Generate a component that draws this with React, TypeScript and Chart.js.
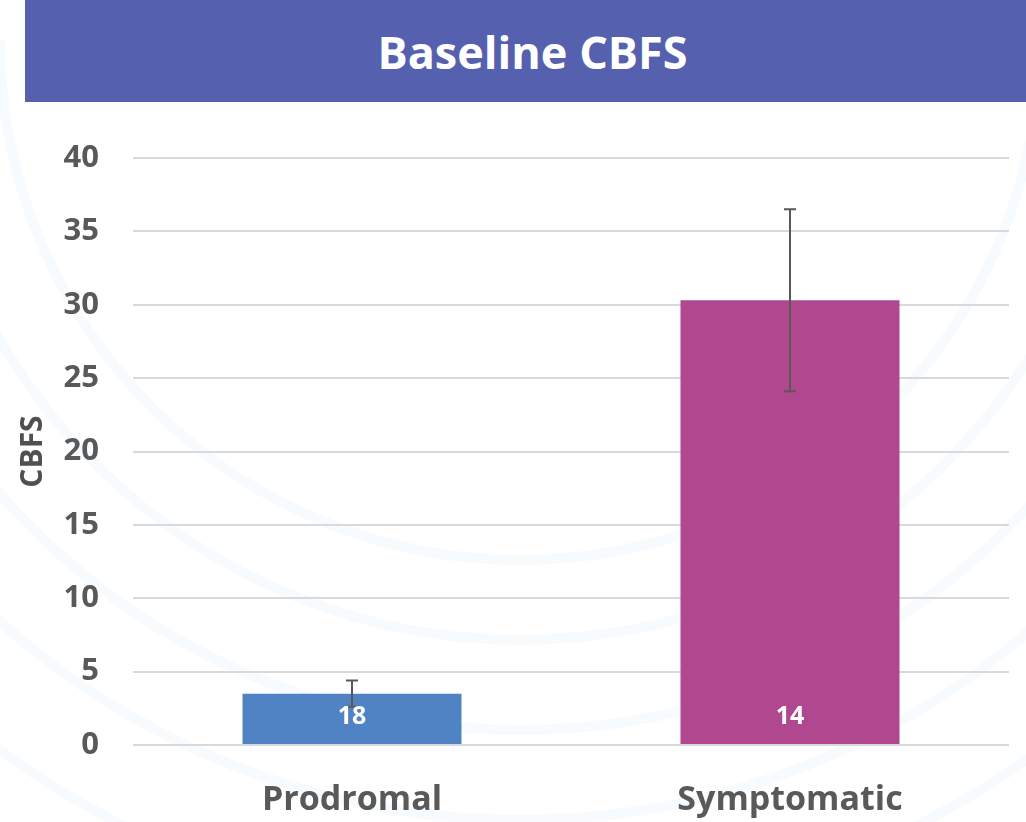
import React, { useEffect, useRef } from "react";
import { Chart, registerables } from "chart.js";

Chart.register(...registerables);

const chartTitle = "Baseline CBFS";
const yAxisTitle = "CBFS";
const categories = ["Prodromal", "Symptomatic"];
const meanValues = [3.5, 30.3];
const errorValues = [0.9, 6.2];
const sampleSizes = ["18", "14"];
const barColors = ["#4F83C4", "#B1478F"];
const yMin = 0;
const yMax = 40;
const yStep = 5;

const FONT = '"Open Sans", "DejaVu Sans", sans-serif';

const backgroundPlugin = {
  id: "bgArcs",
  beforeDraw(chart: any) {
    const { ctx, width, height } = chart;
    ctx.save();
    ctx.fillStyle = "#ffffff";
    ctx.fillRect(0, 0, width, height);
    ctx.strokeStyle = "rgba(190, 225, 240, 0.13)";
    ctx.lineWidth = 10;
    const radii = [520, 600, 690, 780, 880];
    radii.forEach((r) => {
      ctx.beginPath();
      ctx.arc(520, 40, r, 0, Math.PI);
      ctx.stroke();
    });
    ctx.restore();
  },
};

const errorBarPlugin = {
  id: "errorBars",
  afterDatasetsDraw(chart: any) {
    const ctx = chart.ctx;
    const meta = chart.getDatasetMeta(0);
    const yScale = chart.scales.y;
    ctx.save();
    ctx.strokeStyle = "#595959";
    ctx.lineWidth = 2;
    meta.data.forEach((bar: any, i: number) => {
      const x = bar.x;
      const top = yScale.getPixelForValue(meanValues[i] + errorValues[i]);
      const bottom = yScale.getPixelForValue(meanValues[i] - errorValues[i]);
      ctx.beginPath();
      ctx.moveTo(x, top);
      ctx.lineTo(x, bottom);
      ctx.moveTo(x - 6, top);
      ctx.lineTo(x + 6, top);
      ctx.moveTo(x - 6, bottom);
      ctx.lineTo(x + 6, bottom);
      ctx.stroke();
    });
    ctx.fillStyle = "#ffffff";
    ctx.font = `bold 25px ${FONT}`;
    ctx.textAlign = "center";
    ctx.textBaseline = "middle";
    const base = yScale.getPixelForValue(0);
    meta.data.forEach((bar: any, i: number) => {
      ctx.fillText(sampleSizes[i], bar.x, base - 28);
    });
    ctx.restore();
  },
};

export default function App() {
  const canvasRef = useRef<HTMLCanvasElement | null>(null);

  useEffect(() => {
    if (!canvasRef.current) return;
    const chart = new Chart(canvasRef.current, {
      type: "bar",
      data: {
        labels: categories,
        datasets: [
          {
            label: yAxisTitle,
            data: meanValues,
            backgroundColor: barColors,
            borderWidth: 0,
            categoryPercentage: 1,
            barPercentage: 0.5,
          },
        ],
      },
      options: {
        responsive: false,
        animation: false,
        devicePixelRatio: 1,
        layout: { padding: { left: 0, right: 17, top: 158, bottom: 1 } },
        plugins: {
          legend: { display: false },
          title: { display: false },
          tooltip: { enabled: false },
        },
        scales: {
          x: {
            afterFit: (scale: any) => {
              scale.height = 76;
            },
            grid: { display: false, drawTicks: false },
            border: { display: false },
            ticks: {
              color: "#595959",
              font: { family: FONT, size: 34, weight: "bold" },
              padding: 35,
              maxRotation: 0,
              autoSkip: false,
            },
          },
          y: {
            min: yMin,
            max: yMax,
            afterFit: (scale: any) => {
              scale.width = 133;
            },
            grid: { color: "#d9d9d9", lineWidth: 2, drawTicks: false },
            border: { display: false },
            ticks: {
              stepSize: yStep,
              color: "#595959",
              font: { family: FONT, size: 31, weight: "bold" },
              padding: 34,
            },
            title: {
              display: true,
              text: yAxisTitle,
              color: "#505050",
              font: { family: FONT, size: 30, weight: "bold" },
              padding: { top: 15, bottom: 0 },
            },
          },
        },
      },
      plugins: [backgroundPlugin, errorBarPlugin],
    } as any);
    return () => chart.destroy();
  }, []);

  return (
    <div style={{ position: "absolute", left: 0, top: 0, width: 1026, height: 822, overflow: "hidden", background: "#fff" }}>
      <canvas ref={canvasRef} width={1026} height={822} style={{ position: "absolute", left: 0, top: 0, width: 1026, height: 822 }} />
      <div
        style={{
          position: "absolute",
          left: 25,
          top: 0,
          width: 1001,
          height: 102,
          boxSizing: "border-box",
          paddingLeft: 14,
          background: "#5561AE",
          color: "#ffffff",
          fontFamily: FONT,
          fontWeight: "bold",
          fontSize: 45,
          display: "flex",
          alignItems: "center",
          justifyContent: "center",
          zIndex: 2,
        }}
      >
        {chartTitle}
      </div>
    </div>
  );
}
